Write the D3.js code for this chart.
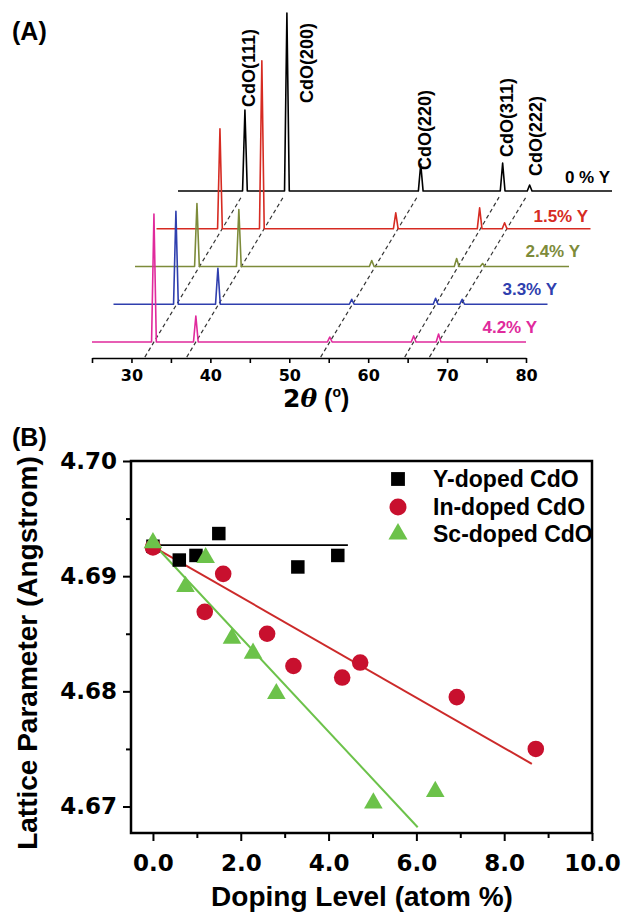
<!DOCTYPE html>
<html>
<head>
<meta charset="utf-8">
<script src="https://cdnjs.cloudflare.com/ajax/libs/d3/7.8.5/d3.min.js"></script>
<style>
  body { margin: 0; background: #fff; }
  svg { display: block; font-family: "Liberation Sans", Arial, sans-serif; font-weight: bold; }
  .num { font-family: "DejaVu Sans", sans-serif; font-weight: bold; }
</style>
</head>
<body>
<script>
'use strict';

// ---------- panel A : XRD patterns ----------
var samples = ["0 % Y", "1.5% Y", "2.4% Y", "3.3% Y", "4.2% Y"];
var sampleColors = ["#000000", "#d62b22", "#7d8b3a", "#2f3fae", "#e02a9c"];
var reflections = ["CdO(111)", "CdO(200)", "CdO(220)", "CdO(311)", "CdO(222)"];

// peak positions (2theta, deg) for each sample, same order as reflections
var peakPos = [
  [33.48, 38.80, 55.76, 66.14, 69.56],
  [33.04, 38.35, 55.32, 65.95, 69.11],
  [32.85, 38.16, 55.00, 65.76, 69.05],
  [32.91, 38.23, 55.19, 65.82, 69.18],
  [32.85, 38.16, 55.13, 65.76, 68.92]
];
// peak intensities (a.u.)
var peakInt = [
  [455, 1000, 152, 157, 34],
  [562, 944, 90, 118, 34],
  [354, 320, 34, 45, 17],
  [522, 202, 28, 34, 28],
  [719, 146, 28, 34, 45]
];
var twoThetaTicks = [25, 30, 35, 40, 45, 50, 55, 60, 65, 70, 75, 80];

// ---------- panel B : lattice parameter ----------
var yDopedX = [0, 0.60, 0.98, 1.50, 3.30, 4.21];
var yDopedA = [4.6926, 4.6914, 4.6918, 4.6937, 4.6908, 4.6918];
var inDopedX = [0, 1.18, 1.60, 2.60, 3.20, 4.31, 4.72, 6.92, 8.72];
var inDopedA = [4.6925, 4.6869, 4.6902, 4.6850, 4.6822, 4.6812, 4.6825, 4.6795, 4.6750];
var scDopedX = [0, 0.74, 1.20, 1.80, 2.28, 2.81, 5.02, 6.43];
var scDopedA = [4.6929, 4.6891, 4.6916, 4.6846, 4.6833, 4.6798, 4.6703, 4.6713];
// linear fits (end points)
var yFitX = [-0.13, 4.44], yFitA = [4.6927, 4.6927];
var inFitX = [-0.06, 8.63], inFitA = [4.6927, 4.6737];
var scFitX = [-0.06, 6.03], scFitA = [4.6931, 4.6682];
var dopingTicks = [0, 2, 4, 6, 8, 10];
var latticeTicks = [4.67, 4.68, 4.69, 4.70];

var svg = d3.select("body").append("svg").attr("width", 621).attr("height", 915);

// ===================== (A) =====================
var xA = d3.scaleLinear().domain([25, 80]).range([92, 526]);
var yA = d3.scaleLinear().domain([0, 1000]).range([342, 164]);
var shiftDeg = 2.725;   // waterfall x offset per trace
var shiftInt = 212;     // waterfall y offset per trace

svg.append("text").attr("x", 12).attr("y", 40).attr("font-size", 25).text("(A)");

function tracePoints(pos, h) {
  var pts = [[25, 0]];
  pos.forEach(function (p, j) {
    pts.push([p - 0.3, 0], [p, h[j]], [p + 0.3, 0]);
  });
  pts.push([80, 0]);
  return pts;
}

// dashed guides through the same reflection
var gd = svg.append("g");
reflections.forEach(function (r, j) {
  var x0 = xA(peakPos[4][j]), y0 = yA(0);
  var x1 = xA(peakPos[0][j] + 4 * shiftDeg), y1 = yA(4 * shiftInt);
  var t0 = -0.1, t1 = 0.96;
  gd.append("line")
    .attr("x1", x0 + (x1 - x0) * t0).attr("y1", y0 + (y1 - y0) * t0)
    .attr("x2", x0 + (x1 - x0) * t1).attr("y2", y0 + (y1 - y0) * t1)
    .attr("stroke", "#333").attr("stroke-width", 1.2).attr("stroke-dasharray", "4,3");
});

// traces, top one (0 %) has the largest offset
var labelRight = [610, 588, 580, 557, 537];
var labelBase = [183, 222, 257, 295, 333];
samples.forEach(function (s, i) {
  var k = samples.length - 1 - i;
  var line = d3.line()
    .x(function (d) { return xA(d[0] + k * shiftDeg); })
    .y(function (d) { return yA(d[1] + k * shiftInt); });
  svg.append("path")
    .datum(tracePoints(peakPos[i], peakInt[i]))
    .attr("d", line)
    .attr("fill", "none")
    .attr("stroke", sampleColors[i])
    .attr("stroke-width", 1.6)
    .attr("stroke-linejoin", "round");
  svg.append("text")
    .attr("x", labelRight[i]).attr("y", labelBase[i])
    .attr("text-anchor", "end").attr("font-size", 17)
    .attr("fill", sampleColors[i])
    .text(s);
});

// reflection labels (rotated), sitting on / beside the top trace peaks
var reflLabelY = [107, 103, 170, 157, 176];
var reflLabelDx = [10, 26, 10, 10, 12];
reflections.forEach(function (r, j) {
  var x = xA(peakPos[0][j] + 4 * shiftDeg) + reflLabelDx[j];
  svg.append("text")
    .attr("transform", "translate(" + x + "," + reflLabelY[j] + ") rotate(-90)")
    .attr("font-size", 18)
    .text(r);
});

// x axis
var axA = svg.append("g").attr("transform", "translate(0,358)")
  .call(d3.axisBottom(xA).tickValues(twoThetaTicks).tickSize(5).tickSizeOuter(0).tickPadding(7)
    .tickFormat(function (d) { return d % 10 === 0 ? d : ""; }));
axA.selectAll("path, line").attr("stroke-width", 1.6);
axA.selectAll("text").attr("class", "num").attr("font-size", 16).attr("fill", "#000");
axA.attr("font-family", null).attr("font-size", null);

var xt = svg.append("text").attr("x", 283).attr("y", 407).attr("font-size", 25);
xt.append("tspan").attr("class", "num").text("2");
xt.append("tspan").attr("font-style", "italic").attr("font-family", "DejaVu Serif").text("\u03b8");
xt.append("tspan").text(" (");
xt.append("tspan").attr("font-size", 14).attr("dy", -10).text("o");
xt.append("tspan").attr("dy", 10).text(")");

// ===================== (B) =====================
var xB = d3.scaleLinear().domain([-0.5, 10]).range([131, 592]);
var yB = d3.scaleLinear().domain([4.6677, 4.70]).range([833, 461]);

svg.append("text").attr("x", 12).attr("y", 446).attr("font-size", 25).text("(B)");

// ticks (major + minor)
function styleAxis(g, fs) {
  g.attr("font-family", null).attr("font-size", null);
  g.selectAll("path").remove();
  g.selectAll("line").attr("stroke-width", 2);
  g.selectAll("text").attr("class", "num").attr("font-size", fs).attr("fill", "#000");
}
styleAxis(svg.append("g").attr("transform", "translate(131,0)")
  .call(d3.axisLeft(yB).tickValues(latticeTicks).tickSize(8).tickPadding(6).tickFormat(d3.format(".2f"))), 23);
styleAxis(svg.append("g").attr("transform", "translate(131,0)")
  .call(d3.axisLeft(yB).tickValues([4.675, 4.685, 4.695]).tickSize(5).tickFormat("")), 23);
styleAxis(svg.append("g").attr("transform", "translate(0,833)")
  .call(d3.axisBottom(xB).tickValues(dopingTicks).tickSize(8).tickPadding(14).tickFormat(d3.format(".1f"))), 23);
styleAxis(svg.append("g").attr("transform", "translate(0,833)")
  .call(d3.axisBottom(xB).tickValues([1, 3, 5, 7, 9]).tickSize(5).tickFormat("")), 23);

// frame
svg.append("rect").attr("x", 131).attr("y", 461).attr("width", 592 - 131).attr("height", 833 - 461)
  .attr("fill", "none").attr("stroke", "#000").attr("stroke-width", 2.5);

// fits
function fitLine(xs, as, color, w) {
  svg.append("line")
    .attr("x1", xB(xs[0])).attr("y1", yB(as[0]))
    .attr("x2", xB(xs[1])).attr("y2", yB(as[1]))
    .attr("stroke", color).attr("stroke-width", w);
}
fitLine(yFitX, yFitA, "#000", 1.8);
fitLine(inFitX, inFitA, "#cc2a2a", 2);
fitLine(scFitX, scFitA, "#6cc24a", 2);

// points
var series = [
  { x: yDopedX, a: yDopedA, sym: d3.symbolSquare, size: 182, color: "#000000", name: "Y-doped CdO" },
  { x: inDopedX, a: inDopedA, sym: d3.symbolCircle, size: 216, color: "#c8102e", name: "In-doped CdO" },
  { x: scDopedX, a: scDopedA, sym: d3.symbolTriangle, size: 150, color: "#6cc24a", name: "Sc-doped CdO" }
];
series.forEach(function (s) {
  var sym = d3.symbol().type(s.sym).size(s.size);
  svg.append("g").selectAll("path").data(s.x).enter().append("path")
    .attr("transform", function (d, i) { return "translate(" + xB(d) + "," + yB(s.a[i]) + ")"; })
    .attr("d", sym)
    .attr("fill", s.color);
});

// legend
var legY = [479, 507, 534];
series.forEach(function (s, i) {
  svg.append("path")
    .attr("transform", "translate(398," + legY[i] + ")")
    .attr("d", d3.symbol().type(s.sym).size(s.size * 1.05))
    .attr("fill", s.color);
  svg.append("text").attr("x", 433).attr("y", legY[i] + 7.5).attr("font-size", 23).text(s.name);
});

// axis titles
svg.append("text").attr("x", 362).attr("y", 906).attr("text-anchor", "middle").attr("font-size", 28)
  .text("Doping Level (atom %)");
svg.append("text").attr("transform", "translate(37,653) rotate(-90)").attr("text-anchor", "middle")
  .attr("font-size", 28).text("Lattice Parameter (Angstrom)");
</script>
</body>
</html>
